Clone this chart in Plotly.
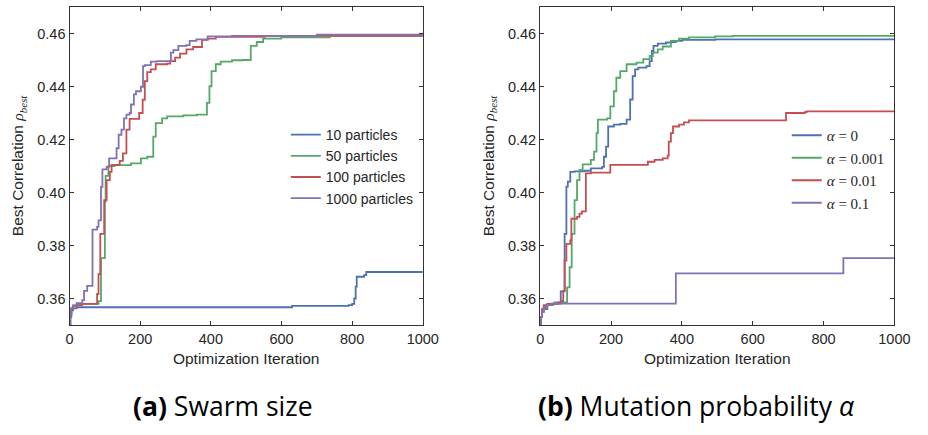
import plotly.graph_objects as go

# ---- (a) swarm size: best correlation vs. iteration (step breakpoints) ----
p10_x = [0, 2, 5, 10, 20, 630, 790, 800, 806, 810, 813, 834, 840, 1000]
p10_y = [0.349, 0.353, 0.3555, 0.3563, 0.3567, 0.3572, 0.3575, 0.358, 0.360, 0.3645, 0.3682, 0.3688, 0.3700, 0.3700]

p50_x = [0, 2, 5, 10, 30, 82, 89, 100, 102, 110, 128, 174, 202, 220, 237, 244, 262, 276, 322, 360,
         389, 396, 402, 414, 428, 460, 490, 513, 530, 548, 599, 737, 1000]
p50_y = [0.349, 0.354, 0.356, 0.3575, 0.358, 0.3590, 0.3752, 0.3965, 0.4063, 0.4100, 0.4103, 0.4110,
         0.4129, 0.4135, 0.4211, 0.4262, 0.4280, 0.4287, 0.4291, 0.4294, 0.4338, 0.4401, 0.4458, 0.4484,
         0.4494, 0.4499, 0.4500, 0.4553, 0.4568, 0.4581, 0.4585, 0.4591, 0.4594]

p100_x = [0, 2, 5, 10, 20, 35, 78, 82, 87, 98, 105, 114, 119, 142, 151, 161, 170, 197, 207, 213, 220,
          230, 244, 276, 285, 299, 313, 331, 350, 375, 391, 414, 553, 1000]
p100_y = [0.349, 0.354, 0.356, 0.357, 0.3575, 0.358, 0.3617, 0.3692, 0.3844, 0.3971, 0.4047, 0.4078,
          0.4104, 0.4119, 0.4148, 0.4237, 0.4278, 0.4300, 0.4350, 0.4420, 0.4454, 0.4465, 0.4484,
          0.4486, 0.4496, 0.4509, 0.4524, 0.4540, 0.4549, 0.4576, 0.4581, 0.4587, 0.4591, 0.4591]

p1000_x = [0, 2, 5, 10, 20, 36, 41, 50, 65, 78, 82, 89, 93, 105, 112, 133, 139, 147, 154, 161, 170,
           174, 182, 188, 202, 208, 213, 230, 248, 287, 294, 308, 331, 340, 359, 391, 460, 700, 1000]
p1000_y = [0.349, 0.354, 0.3565, 0.3572, 0.3582, 0.3594, 0.3629, 0.3648, 0.3860, 0.3870, 0.3895,
           0.4021, 0.4087, 0.4097, 0.4129, 0.4167, 0.4218, 0.4237, 0.4280, 0.4294, 0.4300, 0.4332,
           0.4370, 0.4382, 0.4399, 0.4477, 0.4481, 0.4494, 0.4496, 0.4528, 0.4537, 0.4553, 0.4556,
           0.4572, 0.4578, 0.4589, 0.4591, 0.4596, 0.4602]

# ---- (b) mutation probability alpha ----
a0_x = [0, 2, 5, 10, 20, 35, 58, 69, 74, 78, 85, 97, 125, 143, 175, 180, 186, 192, 208, 226, 244,
        254, 261, 268, 277, 300, 309, 315, 320, 332, 355, 369, 383, 401, 494, 1000]
a0_y = [0.349, 0.353, 0.355, 0.356, 0.3575, 0.3581, 0.3627, 0.3844, 0.4022, 0.4041, 0.4078, 0.4080,
        0.4082, 0.4091, 0.4097, 0.4135, 0.4173, 0.4249, 0.4256, 0.4259, 0.4275, 0.4351, 0.4439,
        0.4465, 0.4471, 0.4477, 0.4496, 0.4534, 0.4553, 0.4562, 0.4566, 0.4568, 0.4572, 0.4576,
        0.4578, 0.4578]

a0001_x = [0, 2, 5, 10, 20, 40, 76, 83, 89, 97, 104, 111, 120, 143, 152, 159, 163, 189, 198, 208, 215,
           226, 244, 272, 291, 309, 318, 332, 346, 369, 392, 420, 494, 544, 1000]
a0001_y = [0.349, 0.353, 0.3555, 0.357, 0.3578, 0.3585, 0.3642, 0.3718, 0.3844, 0.3971, 0.4047,
           0.4085, 0.4106, 0.4123, 0.4154, 0.4224, 0.4275, 0.4280, 0.4325, 0.4382, 0.4433, 0.4458,
           0.4484, 0.4490, 0.4503, 0.4515, 0.4528, 0.4540, 0.4551, 0.4572, 0.4581, 0.4585, 0.4589,
           0.4591, 0.4594]

a001_x = [0, 2, 5, 10, 20, 51, 60, 65, 69, 74, 85, 88, 104, 111, 118, 129, 143, 198, 304, 323, 346,
          360, 363, 369, 375, 392, 406, 420, 694, 747, 752, 1000]
a001_y = [0.349, 0.353, 0.356, 0.3575, 0.358, 0.3585, 0.3590, 0.3629, 0.3743, 0.3806, 0.3819, 0.3901,
          0.3908, 0.3920, 0.3929, 0.4072, 0.4075, 0.4104, 0.4116, 0.4123, 0.4129, 0.4139, 0.4192,
          0.4224, 0.4249, 0.4256, 0.4265, 0.4272, 0.4300, 0.4303, 0.4306, 0.4306]

a01_x = [0, 2, 5, 10, 20, 32, 383, 856, 1000]
a01_y = [0.349, 0.353, 0.355, 0.3565, 0.3575, 0.3581, 0.3695, 0.3752, 0.3752]

swarm_labels = ["10 particles", "50 particles", "100 particles", "1000 particles"]
alpha_labels = ["<i>α</i> = 0", "<i>α</i> = 0.001", "<i>α</i> = 0.01", "<i>α</i> = 0.1"]
x_ticks = [0, 200, 400, 600, 800, 1000]
y_ticks = [0.36, 0.38, 0.40, 0.42, 0.44, 0.46]

colors = ["#4C72B0", "#55A868", "#C44E52", "#8172B2"]

fig = go.Figure()

swarm = [(p10_x, p10_y), (p50_x, p50_y), (p100_x, p100_y), (p1000_x, p1000_y)]
for (xs, ys), name, c in zip(swarm, swarm_labels, colors):
    fig.add_trace(go.Scatter(x=xs, y=ys, mode="lines", name=name, line_shape="hv",
                             line=dict(color=c, width=1.8), xaxis="x", yaxis="y",
                             legend="legend"))

alpha = [(a0_x, a0_y), (a0001_x, a0001_y), (a001_x, a001_y), (a01_x, a01_y)]
for (xs, ys), name, c in zip(alpha, alpha_labels, colors):
    fig.add_trace(go.Scatter(x=xs, y=ys, mode="lines", name=name, line_shape="hv",
                             line=dict(color=c, width=1.8), xaxis="x2", yaxis="y2",
                             legend="legend2"))

W, H = 928, 435
frame = "#333333"
tick_font = dict(family="Liberation Sans, Arial, sans-serif", size=14.5, color="#262626")
title_font = dict(family="Liberation Sans, Arial, sans-serif", size=15.5, color="#262626")

def xaxis(domain, anchor):
    return dict(domain=domain, anchor=anchor, range=[0, 1000], tickvals=x_ticks,
                ticks="inside", ticklen=4, tickwidth=1, tickcolor=frame,
                showline=True, linecolor=frame, linewidth=1.3, mirror="ticks",
                showgrid=False, zeroline=False, tickfont=tick_font,
                title=dict(text="Optimization Iteration", font=title_font, standoff=7))

ytitle = ("Best Correlation <span style='font-family:Liberation Serif'><i>ρ</i>"
          "<sub><i>best</i></sub></span>")

def yaxis(anchor):
    return dict(domain=[1 - 325 / H, 1 - 7 / H], anchor=anchor, range=[0.35, 0.47],
                tickvals=y_ticks, tickformat=".2f",
                ticks="inside", ticklen=4, tickwidth=1, tickcolor=frame,
                showline=True, linecolor=frame, linewidth=1.3, mirror="ticks",
                showgrid=False, zeroline=False, tickfont=tick_font,
                title=dict(text=ytitle, font=title_font, standoff=9))

legend_common = dict(bgcolor="rgba(0,0,0,0)", borderwidth=0, xanchor="left", yanchor="top",
                     tracegroupgap=0, itemwidth=30)

fig.update_layout(
    width=W, height=H,
    margin=dict(l=0, r=0, t=0, b=0),
    paper_bgcolor="white", plot_bgcolor="white",
    xaxis=xaxis([67 / W, 428 / W], "y"),
    yaxis=yaxis("x"),
    xaxis2=xaxis([548 / W, 910 / W], "y2"),
    yaxis2=yaxis("x2"),
    legend=dict(x=288 / W, y=1 - 119 / H,
                font=dict(family="Liberation Sans, Arial, sans-serif", size=14, color="#262626"),
                **legend_common),
    legend2=dict(x=800 / W, y=1 - 119 / H,
                 font=dict(family="Liberation Serif, serif", size=15, color="#262626"),
                 **legend_common),
    annotations=[
        dict(text="<b>(a)</b> Swarm size", x=224 / W, y=1 - 406 / H, xref="paper", yref="paper",
             showarrow=False, xanchor="center", yanchor="middle",
             font=dict(family="Open Sans, sans-serif", size=26.5, color="black")),
        dict(text="<b>(b)</b> Mutation probability <i>α</i>", x=708 / W, y=1 - 406 / H,
             xref="paper", yref="paper", showarrow=False, xanchor="center", yanchor="middle",
             font=dict(family="Open Sans, sans-serif", size=26.5, color="black")),
    ],
)

fig.write_html("out.html")
